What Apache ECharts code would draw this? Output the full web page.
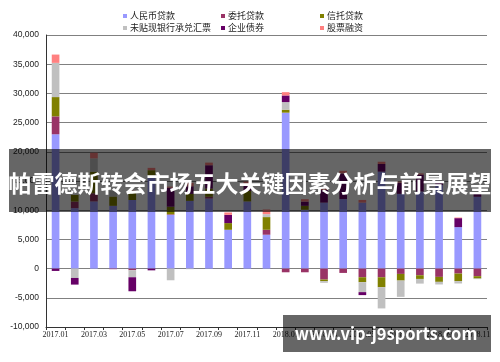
<!DOCTYPE html>
<html>
<head>
<meta charset="utf-8">
<script src="https://cdn.jsdelivr.net/npm/echarts@6/dist/echarts.min.js"></script>
<style>
html,body{margin:0;padding:0;background:#fff;}
#c{width:500px;height:362px;}
</style>
</head>
<body>
<div id="c"></div>
<script>
const months = ['2017.01','2017.02','2017.03','2017.04','2017.05','2017.06','2017.07','2017.08','2017.09','2017.10','2017.11','2017.12',
  '2018.01','2018.02','2018.03','2018.04','2018.05','2018.06','2018.07','2018.08','2018.09','2018.10','2018.11'];
const seriesNames = ['人民币贷款','委托贷款','信托贷款','未贴现银行承兑汇票','企业债券','股票融资'];
const rmbLoans    = [23000,10350,11500,10750,11750,15850,9200,11600,12000,6650,11500,5800,26700,10070,11300,11900,11300,16600,12800,13200,14300,7100,12300];
const entrustLoans= [3070,1130,1400,-100,-280,0,100,0,300,0,0,850,-630,-630,-1870,-740,-1480,-1480,-910,-1140,-1420,-850,-1300];
const trustLoans  = [3300,1140,3700,1600,1300,1000,1300,1200,1400,1140,1800,2170,510,680,-280,0,-850,-1700,-1140,-630,-850,-1300,-400];
const bankAccept  = [5860,-1600,2270,1000,-1200,0,-2000,-100,0,0,0,500,1300,0,-280,0,-1700,-3640,-2790,-800,-450,-400,-100];
const corpBonds   = [-400,-1140,0,0,-2400,-300,3240,1300,4000,1420,1000,0,1140,730,2170,4400,-510,1310,1900,2900,400,1540,500];
const equity      = [1420,0,970,0,300,400,200,600,450,400,600,800,560,410,290,450,460,390,200,200,200,100,100];
const yTicks = {min:-10000, max:40000, step:5000};

const colors = ['#9999FF','#993366','#808000','#C0C0C0','#660066','#FF8080'];
const dataList = [rmbLoans, entrustLoans, trustLoans, bankAccept, corpBonds, equity];

const chart = echarts.init(document.getElementById('c'), null, {renderer:'canvas'});

const legendPos = [
  {left:123, top:10},{left:221, top:10},{left:320, top:10},
  {left:123, top:22},{left:221, top:22},{left:320, top:22}
];
const legends = seriesNames.map((n,i)=>({
  data:[n], left:legendPos[i].left, top:legendPos[i].top,
  itemWidth:4, itemHeight:4, icon:'rect', padding:0,
  textStyle:{fontSize:9, color:'#222', fontFamily:'"Noto Sans CJK SC", sans-serif', lineHeight:12, padding:[0,0,0,-2]}
}));

const option = {
  animation:false,
  color: colors,
  legend: legends,
  grid:{left:46, right:13, top:35, bottom:35, containLabel:false},
  xAxis:{
    type:'category', data:months, boundaryGap:true,
    axisLine:{onZero:false, lineStyle:{color:'#333', width:1}},
    axisTick:{show:true, interval:0, length:3, alignWithLabel:false, lineStyle:{color:'#333'}},
    axisLabel:{interval:1, fontSize:8, margin:4, color:'#222', fontFamily:'"Liberation Serif", serif'},
    splitLine:{show:false}
  },
  yAxis:{
    type:'value', min:yTicks.min, max:yTicks.max, interval:yTicks.step,
    axisLine:{show:true, lineStyle:{color:'#333'}},
    axisTick:{show:false},
    axisLabel:{fontSize:8.5, margin:7, color:'#222', fontFamily:'"Liberation Sans", Arial, sans-serif'},
    splitLine:{show:true, lineStyle:{color:'#808080', width:1}}
  },
  series: seriesNames.map((n,i)=>({
    name:n, type:'bar', stack:'total', barWidth:'40%',
    data:dataList[i], itemStyle:{color:colors[i]}
  })),
  graphic:[
    {type:'rect', shape:{x:9,y:149,width:482,height:63}, style:{fill:'rgba(0,0,0,0.6)'}, z:100},
    {type:'text', x:250, y:183, z:101, style:{text:'帕雷德斯转会市场五大关键因素分析与前景展望', fill:'#fff',
      font:'bold 23px "Noto Sans CJK SC", sans-serif', align:'center', verticalAlign:'middle', textAlign:'center', textVerticalAlign:'middle'}},
    {type:'rect', shape:{x:283,y:315,width:208,height:37}, style:{fill:'rgba(0,0,0,0.6)'}, z:100},
    {type:'text', x:386, y:334, z:101, style:{text:'www.vip-j9sports.com', fill:'#fff',
      font:'bold 16.5px "Noto Sans CJK SC", sans-serif', align:'center', verticalAlign:'middle', textAlign:'center', textVerticalAlign:'middle'}}
  ]
};
chart.setOption(option);
</script>
</body>
</html>
